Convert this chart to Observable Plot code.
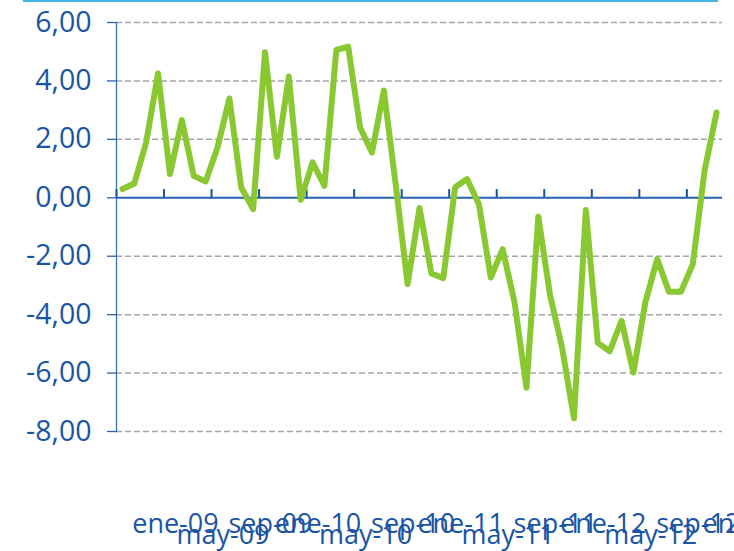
<!DOCTYPE html>
<html><head><meta charset="utf-8">
<script src="https://cdn.jsdelivr.net/npm/d3@7"></script>
<script src="https://cdn.jsdelivr.net/npm/@observablehq/plot@0.6"></script>
<style>
html,body{margin:0;padding:0;background:#fff;}
#wrap{position:relative;width:734px;height:551px;overflow:hidden;}
#topline{position:absolute;left:23px;top:0;width:695px;height:2px;background:#41b6e6;}
</style></head><body>
<div id="wrap"><div id="topline"></div></div>
<script>
const months = [
  "ene-09","feb-09","mar-09","abr-09","may-09","jun-09","jul-09","ago-09","sep-09","oct-09","nov-09","dic-09",
  "ene-10","feb-10","mar-10","abr-10","may-10","jun-10","jul-10","ago-10","sep-10","oct-10","nov-10","dic-10",
  "ene-11","feb-11","mar-11","abr-11","may-11","jun-11","jul-11","ago-11","sep-11","oct-11","nov-11","dic-11",
  "ene-12","feb-12","mar-12","abr-12","may-12","jun-12","jul-12","ago-12","sep-12","oct-12","nov-12","dic-12",
  "ene-13","feb-13","mar-13"
];
const values = [
  0.30, 0.49, 1.90, 4.26, 0.81, 2.66, 0.75, 0.56, 1.72, 3.40, 0.35, -0.39,
  4.98, 1.40, 4.15, -0.07, 1.21, 0.41, 5.06, 5.17, 2.41, 1.55, 3.67, 0.45,
  -2.96, -0.35, -2.59, -2.75, 0.36, 0.64, -0.22, -2.73, -1.76, -3.59, -6.50, -0.65,
  -3.36, -5.13, -7.55, -0.42, -4.96, -5.26, -4.21, -5.98, -3.59, -2.10, -3.22, -3.22,
  -2.27, 0.95, 2.92
];
const yTicks = [-8, -6, -4, -2, 0, 2, 4, 6];
const labelInterval = 4;

const data = months.map((m, i) => ({i, month: m, value: values[i]}));
const labelIdx = months.map((m, i) => i).filter(i => i % labelInterval === 0);
const upperIdx = labelIdx.filter(i => !months[i].startsWith("may"));
const lowerIdx = labelIdx.filter(i => months[i].startsWith("may"));
const tickBounds = labelIdx.map(i => i - 0.5);
const fmt = d => d.toFixed(2).replace(".", ",");

const textBlue = "#1a55a5";
const chart = Plot.plot({
  width: 734,
  height: 551,
  marginLeft: 116,
  marginRight: 12,
  marginTop: 22,
  marginBottom: 120,
  style: {fontFamily: "'Open Sans', sans-serif", color: textBlue, background: "#fff", overflow: "visible"},
  x: {type: "linear", domain: [-0.5, months.length - 0.5], label: null},
  y: {domain: [-8, 6], label: null},
  marks: [
    Plot.ruleY(yTicks.filter(d => d !== 0), {stroke: "#a6a6a6", strokeWidth: 1.5, strokeDasharray: "6,3"}),
    Plot.axisY({ticks: yTicks, tickFormat: fmt, tickSize: 9, tickPadding: 16, fontSize: 28.5, stroke: "#2a62ae", strokeWidth: 1.3, fill: textBlue, label: null}),
    Plot.frame({anchor: "left", stroke: "#3a70b8", strokeWidth: 1.3}),
    Plot.ruleY([0], {stroke: "#2463ae", strokeWidth: 2}),
    Plot.ruleX(tickBounds, {y1: 0, y2: 0.28, stroke: "#1b4f9c", strokeWidth: 2}),
    Plot.axisX({ticks: upperIdx, tickFormat: i => months[i], tickSize: 0, tickPadding: 82, dx: 53, fontSize: 27, fill: textBlue, label: null}),
    Plot.axisX({ticks: lowerIdx, tickFormat: i => months[i], tickSize: 0, tickPadding: 93, dx: 53, fontSize: 27, fill: textBlue, label: null}),
    Plot.line(data, {x: "i", y: "value", stroke: "#8ac832", strokeWidth: 6, strokeLinejoin: "round", strokeLinecap: "round"})
  ]
});
document.getElementById("wrap").appendChild(chart);
</script>
</body></html>
